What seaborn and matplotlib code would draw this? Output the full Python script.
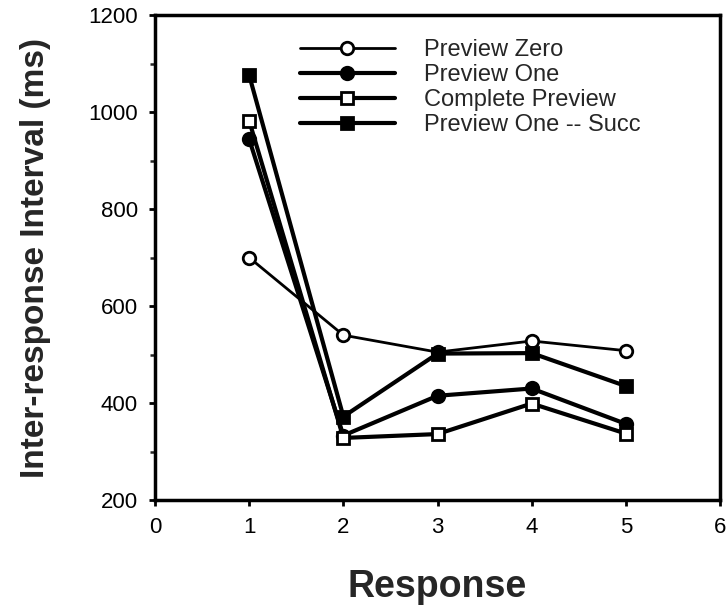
import matplotlib
matplotlib.use("Agg")
import matplotlib.pyplot as plt
import seaborn as sns
import pandas as pd
from matplotlib.ticker import MultipleLocator

responses = [1, 2, 3, 4, 5]
preview_zero = [700, 540, 505, 528, 508]
preview_one = [944, 333, 415, 430, 357]
complete_preview = [982, 328, 336, 399, 337]
preview_one_succ = [1076, 372, 502, 503, 435]

series_names = ["Preview Zero", "Preview One", "Complete Preview", "Preview One -- Succ"]
series_values = [preview_zero, preview_one, complete_preview, preview_one_succ]
markers = ["o", "o", "s", "s"]
faces = ["white", "black", "white", "black"]
widths = [2.0, 3.0, 3.0, 3.0]

sns.set_theme(style="white")
plt.rcParams["font.family"] = ["Liberation Sans", "DejaVu Sans"]

fig = plt.figure(figsize=(7.28, 6.09), dpi=100)
ax = fig.add_axes([0.213, 0.179, 0.776, 0.796])

for name, vals, m, fc, lw in zip(series_names, series_values, markers, faces, widths):
    df = pd.DataFrame({"Response": responses, "IRI": vals})
    sns.lineplot(data=df, x="Response", y="IRI", ax=ax, color="black",
                 marker=m, markerfacecolor=fc, markeredgecolor="black",
                 markeredgewidth=2, markersize=9 if m == "o" else 9,
                 linewidth=lw, label=name)

ax.set_xlim(0, 6)
ax.set_ylim(200, 1200)
ax.xaxis.set_major_locator(MultipleLocator(1))
ax.yaxis.set_major_locator(MultipleLocator(200))
ax.yaxis.set_minor_locator(MultipleLocator(100))
ax.tick_params(axis="both", which="major", direction="out", length=4.5, width=2,
               labelsize=16, colors="black", left=True, bottom=True, pad=8)
ax.tick_params(axis="y", which="minor", direction="out", length=3.5, width=1.8, left=True)
for s in ax.spines.values():
    s.set_color("black")
    s.set_linewidth(2.5)

ax.set_xlabel("Response", fontsize=27, fontweight="bold", labelpad=22)
ax.set_ylabel("Inter-response Interval (ms)", fontsize=24, fontweight="bold", labelpad=27)

leg = ax.legend(loc="upper left", bbox_to_anchor=(0.257, 0.95), frameon=False,
                fontsize=17, handlelength=4.0, handletextpad=1.25, labelspacing=0.12,
                borderpad=0, borderaxespad=0)

fig.savefig("out.png", dpi=100)
